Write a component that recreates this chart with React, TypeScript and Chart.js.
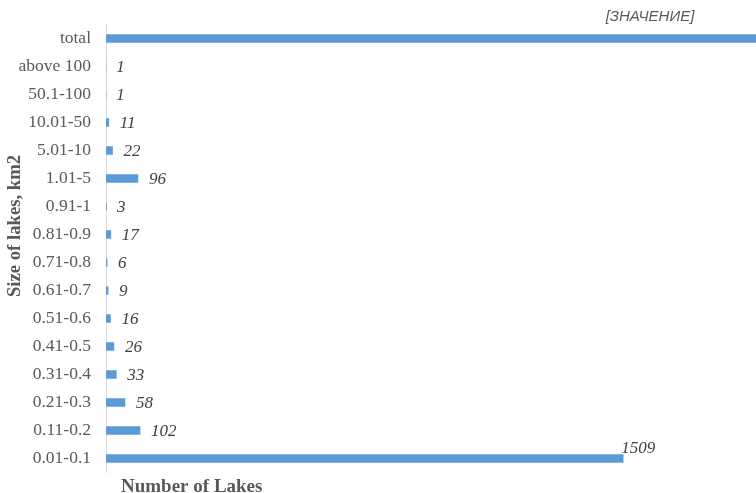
import React, { useEffect, useRef } from "react";
import { Chart, registerables } from "chart.js";

Chart.register(...registerables);

const categories = [
  "0.01-0.1", "0.11-0.2", "0.21-0.3", "0.31-0.4", "0.41-0.5", "0.51-0.6",
  "0.61-0.7", "0.71-0.8", "0.81-0.9", "0.91-1", "1.01-5", "5.01-10",
  "10.01-50", "50.1-100", "above 100", "total",
];
const lakeCounts = [1509, 102, 58, 33, 26, 16, 9, 6, 17, 3, 96, 22, 11, 1, 1, 1910];
const valueLabels = [
  "1509", "102", "58", "33", "26", "16", "9", "6", "17", "3", "96", "22",
  "11", "1", "1", "[ЗНАЧЕНИЕ]",
];
const xAxisMax = 1893;
const yAxisTitle = "Size of lakes, km2";
const xAxisTitle = "Number of Lakes";

const labelsPlugin = {
  id: "labelsPlugin",
  afterDatasetsDraw(chart: any) {
    const ctx = chart.ctx;
    const meta = chart.getDatasetMeta(0);
    const area = chart.chartArea;
    ctx.save();
    meta.data.forEach((bar: any, i: number) => {
      const text = valueLabels[i];
      if (i === categories.length - 1) {
        ctx.font = "italic 15px 'Liberation Sans', Arial, sans-serif";
        ctx.fillStyle = "#595959";
        ctx.textAlign = "center";
        ctx.textBaseline = "middle";
        ctx.fillText(text, area.right - 106, bar.y - 22);
      } else if (i === 0) {
        ctx.font = "italic 17px 'Liberation Serif', 'Times New Roman', serif";
        ctx.fillStyle = "#404040";
        ctx.textAlign = "left";
        ctx.textBaseline = "middle";
        ctx.fillText(text, bar.x - 3, bar.y - 10);
      } else {
        ctx.font = "italic 17px 'Liberation Serif', 'Times New Roman', serif";
        ctx.fillStyle = "#404040";
        ctx.textAlign = "left";
        ctx.textBaseline = "middle";
        ctx.fillText(text, bar.x + 10, bar.y + 1);
      }
    });
    ctx.restore();
  },
  afterDraw(chart: any) {
    const ctx = chart.ctx;
    const area = chart.chartArea;
    ctx.save();
    ctx.font = "bold 18.7px 'Liberation Serif', 'Times New Roman', serif";
    ctx.fillStyle = "#595959";
    ctx.textAlign = "center";
    ctx.textBaseline = "middle";
    ctx.translate(15, 226);
    ctx.rotate(-Math.PI / 2);
    ctx.fillText(yAxisTitle, 0, 0);
    ctx.restore();
    ctx.save();
    ctx.font = "bold 19px 'Liberation Serif', 'Times New Roman', serif";
    ctx.fillStyle = "#595959";
    ctx.textAlign = "left";
    ctx.textBaseline = "middle";
    ctx.fillText(xAxisTitle, area.left + 15, 487);
    ctx.restore();
  },
};

export default function App() {
  const canvasRef = useRef<HTMLCanvasElement | null>(null);

  useEffect(() => {
    document.body.style.margin = "0";
    const canvas = canvasRef.current;
    if (!canvas) return;
    const chart = new Chart(canvas, {
      type: "bar",
      data: {
        labels: categories,
        datasets: [
          {
            data: lakeCounts,
            backgroundColor: "#5B9BD5",
            borderColor: "rgba(255,255,255,0.5)",
            borderWidth: 1,
            barThickness: 10,
          },
        ],
      },
      options: {
        indexAxis: "y",
        responsive: false,
        animation: false,
        layout: { padding: { left: 0, right: 0, top: 24.5, bottom: 20.5 } },
        plugins: {
          legend: { display: false },
          tooltip: { enabled: false },
          title: { display: false },
        },
        scales: {
          x: {
            display: false,
            min: 0,
            max: xAxisMax,
          },
          y: {
            reverse: true,
            afterFit: (scale: any) => {
              scale.width = 106;
              scale.paddingTop = 0;
              scale.paddingBottom = 0;
            },
            grid: { display: false, drawTicks: false },
            border: { display: true, color: "#d9d9d9", width: 1 },
            ticks: {
              padding: 15,
              color: "#595959",
              font: { family: "'Liberation Serif', 'Times New Roman', serif", size: 17.5 },
            },
          },
        },
      },
      plugins: [labelsPlugin],
    });
    return () => chart.destroy();
  }, []);

  return (
    <div style={{ position: "absolute", left: 0, top: 0, width: 756, height: 493, background: "#fff" }}>
      <canvas ref={canvasRef} width={756} height={493} style={{ width: 756, height: 493 }} />
    </div>
  );
}
